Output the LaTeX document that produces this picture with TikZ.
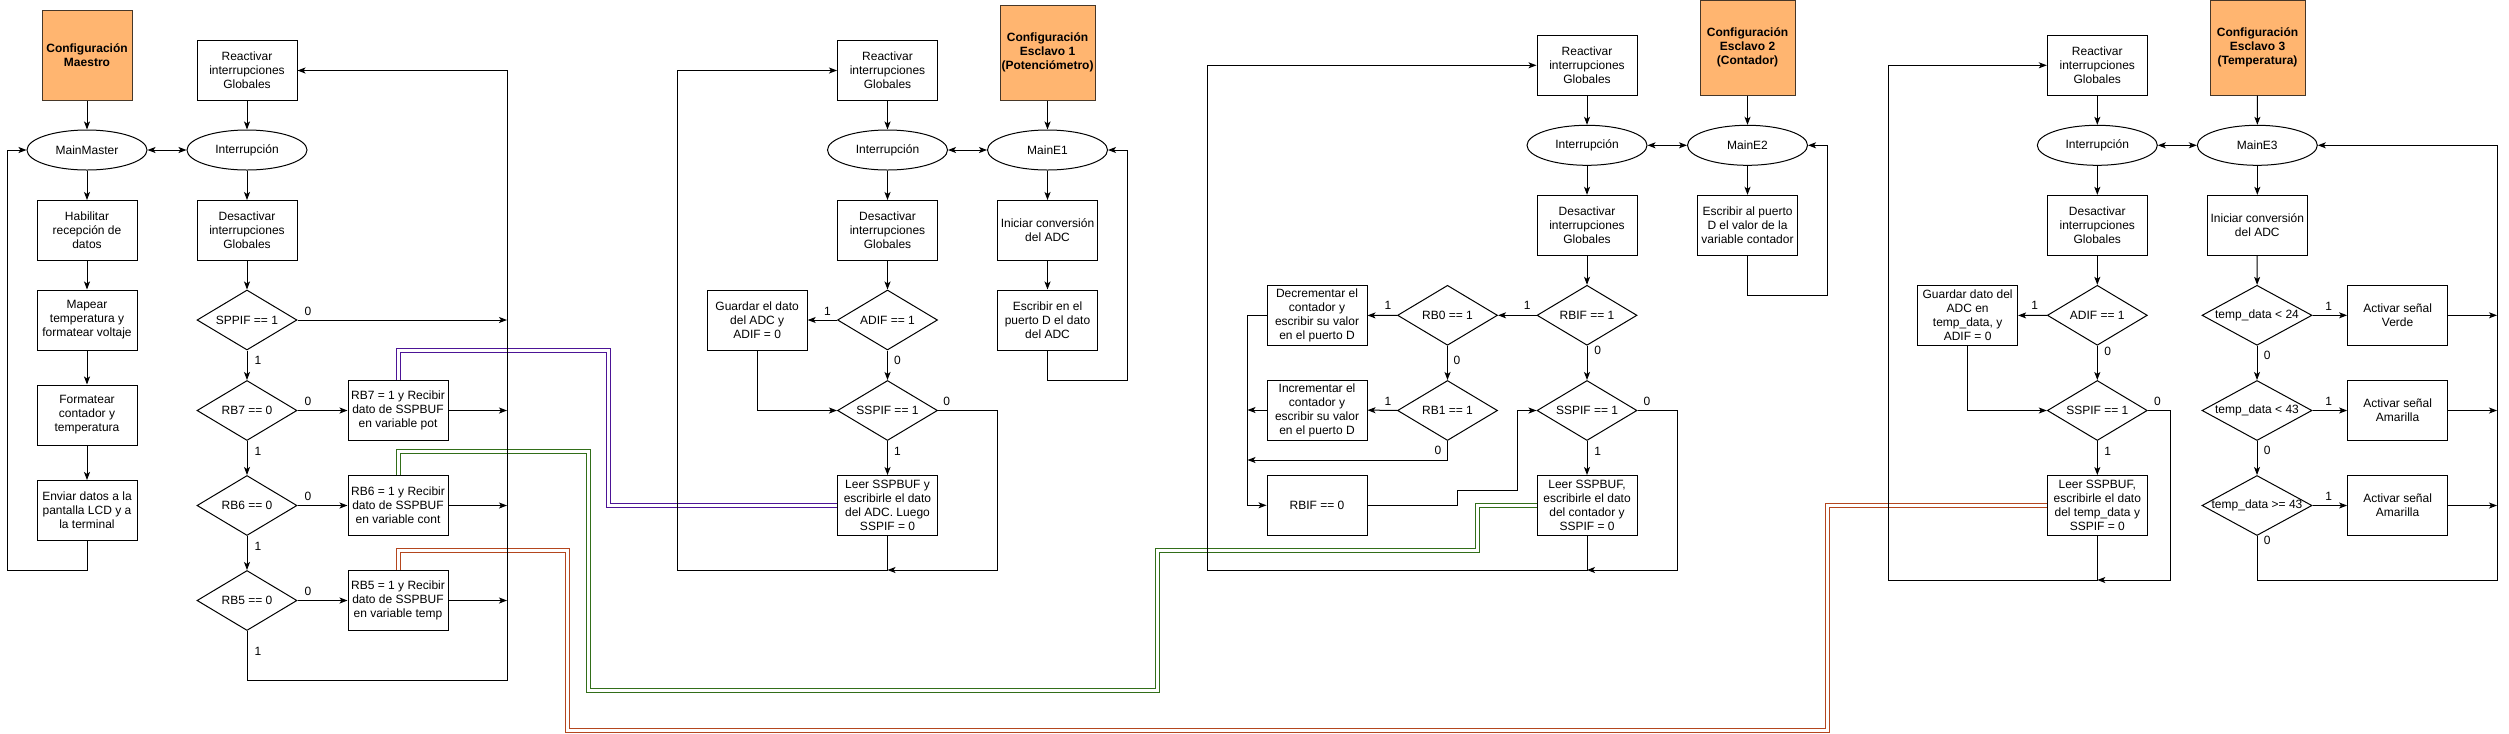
\documentclass[tikz,border=0pt]{standalone}
\usepackage{fontspec}
\setmainfont{Liberation Sans}
\usetikzlibrary{shapes.geometric}
\usetikzlibrary{arrows.meta}
\usetikzlibrary{positioning}

\definecolor{cfgorange}{RGB}{255,181,112}
\definecolor{cfgborder}{RGB}{70,55,40}
\definecolor{linkpot}{RGB}{76,20,150}
\definecolor{linkcont}{RGB}{50,110,25}
\definecolor{linktemp}{RGB}{180,70,30}

\begin{document}
\begin{tikzpicture}[x=0.75pt, y=-0.75pt, line width=0.75pt,
                >={Stealth[length=6pt,width=4.5pt,inset=1.5pt]},
                every node/.style={font=\fontsize{9}{10.5}\selectfont},
                squarednode/.style={rectangle, draw, fill=white, align=center, inner sep=0pt, minimum width=75pt, minimum height=45pt},
                cfgnode/.style={rectangle, draw=cfgborder, fill=cfgorange, align=center, inner sep=0pt, minimum width=71.25pt, minimum height=71.25pt, font=\fontsize{9}{10.5}\selectfont\bfseries},
                roundnode/.style={ellipse, draw, fill=white, inner sep=0pt, minimum width=90pt, minimum height=30pt},
                decisionnode/.style={diamond, draw, fill=white, inner sep=0pt, minimum width=75pt, minimum height=45pt,
                    execute at begin node=\hbox to 0pt\bgroup\hss, execute at end node=\hss\egroup},
                widedecision/.style={decisionnode, minimum width=82.5pt},
                labelnode/.style={inner sep=0pt},
                linkline/.style={double=white, double distance=2.25pt, line width=0.75pt},
            ]
            \useasboundingbox (0,0) rectangle (2509,733);

            % Nodes (maestro)
            \node[cfgnode, minimum width=67.5pt, minimum height=67.5pt] (cfgM) at (87,55.5) {Configuración\\Maestro};
            \node[roundnode]        (mainM)   at (87,150)     {MainMaster};
            \node[squarednode]      (habM)    at (87,230.5)   {Habilitar\\recepción de\\datos};
            \node[squarednode]      (mapM)    at (87,320)     {Mapear\\temperatura y\\formatear voltaje};
            \node[squarednode]      (forM)    at (87,415)     {Formatear\\contador y\\temperatura};
            \node[squarednode]      (envM)    at (87,510.5)   {Enviar datos a la\\pantalla LCD y a\\la terminal};

            \node[squarednode]      (reM)     at (247,70.5)   {Reactivar\\interrupciones\\Globales};
            \node[roundnode]        (intM)    at (247,150)    {Interrupción};
            \node[squarednode]      (desM)    at (247,230.5)  {Desactivar\\interrupciones\\Globales};
            \node[decisionnode]     (spM)     at (247,320)    {SPPIF == 1};
            \node[decisionnode]     (rb7M)    at (247,410.5)  {RB7 == 0};
            \node[decisionnode]     (rb6M)    at (247,505.5)  {RB6 == 0};
            \node[decisionnode]     (rb5M)    at (247,600.5)  {RB5 == 0};
            \node[squarednode]      (potM)    [right=37.5pt of rb7M]  {RB7 = 1 y Recibir\\dato de SSPBUF\\en variable pot};
            \node[squarednode]      (contM)   [right=37.5pt of rb6M]  {RB6 = 1 y Recibir\\dato de SSPBUF\\en variable cont};
            \node[squarednode]      (tempM)   [right=37.5pt of rb5M]  {RB5 = 1 y Recibir\\dato de SSPBUF\\en variable temp};

            % Nodes (esclavo 1)
            \node[cfgnode]          (cfg1)    at (1047.5,52.5) {Configuración\\Esclavo 1\\(Potenciómetro)};
            \node[roundnode]        (main1)   at (1047.5,150)  {MainE1};
            \node[squarednode]      (ini1)    at (1047.5,230.5) {Iniciar conversión\\del ADC};
            \node[squarednode]      (esc1)    at (1047.5,320)  {Escribir en el\\puerto D el dato\\del ADC};
            \node[squarednode]      (re1)     at (887.5,70.5)  {Reactivar\\interrupciones\\Globales};
            \node[roundnode]        (int1)    at (887.5,150)   {Interrupción};
            \node[squarednode]      (des1)    at (887.5,230.5) {Desactivar\\interrupciones\\Globales};
            \node[decisionnode]     (adif1)   at (887.5,320)   {ADIF == 1};
            \node[squarednode]      (gua1)    [left=22pt of adif1] {Guardar el dato\\del ADC y\\ADIF = 0};
            \node[decisionnode]     (ssp1)    at (887.5,410.5) {SSPIF == 1};
            \node[squarednode]      (lee1)    at (887.5,505.5) {Leer SSPBUF y\\escribirle el dato\\del ADC. Luego\\SSPIF = 0};

            % Nodes (esclavo 2)
            \node[cfgnode]          (cfg2)    at (1747.5,47.5) {Configuración\\Esclavo 2\\(Contador)};
            \node[roundnode]        (main2)   at (1747.5,145.3) {MainE2};
            \node[squarednode]      (esc2)    at (1747.5,225.3) {Escribir al puerto\\D el valor de la\\variable contador};
            \node[squarednode]      (re2)     at (1587,65.3)   {Reactivar\\interrupciones\\Globales};
            \node[roundnode]        (int2)    at (1587,145.3)  {Interrupción};
            \node[squarednode]      (des2)    at (1587,225.3)  {Desactivar\\interrupciones\\Globales};
            \node[decisionnode]     (rbif2)   at (1587,315.3)  {RBIF == 1};
            \node[decisionnode]     (ssp2)    at (1587,410.5)  {SSPIF == 1};
            \node[squarednode]      (lee2)    at (1587,505.5)  {Leer SSPBUF,\\escribirle el dato\\del contador y\\SSPIF = 0};
            \node[decisionnode]     (rb0)     at (1447.5,315.3) {RB0 == 1};
            \node[decisionnode]     (rb1)     at (1447.5,410.5) {RB1 == 1};
            \node[squarednode]      (dec2)    at (1317,315.5)  {Decrementar el\\contador y\\escribir su valor\\en el puerto D};
            \node[squarednode]      (inc2)    at (1317,410)    {Incrementar el\\contador y\\escribir su valor\\en el puerto D};
            \node[squarednode]      (clr2)    at (1317,505.3)  {RBIF == 0};

            % Nodes (esclavo 3)
            \node[cfgnode]          (cfg3)    at (2257.5,47.5) {Configuración\\Esclavo 3\\(Temperatura)};
            \node[roundnode]        (main3)   at (2257.3,145.3) {MainE3};
            \node[squarednode]      (ini3)    at (2257.3,225.3) {Iniciar conversión\\del ADC};
            \node[widedecision]     (t24)     at (2257,315.3)  {temp\_data < 24};
            \node[widedecision]     (t43)     at (2257,410.5)  {temp\_data < 43};
            \node[widedecision]     (t43b)    at (2257,505.5)  {temp\_data >= 43};
            \node[squarednode]      (verde)   at (2397.6,315.3) {Activar señal\\Verde};
            \node[squarednode]      (ama1)    at (2397.6,410.5) {Activar señal\\Amarilla};
            \node[squarednode]      (ama2)    at (2397.6,505.5) {Activar señal\\Amarilla};
            \node[squarednode]      (re3)     at (2097.3,65.3) {Reactivar\\interrupciones\\Globales};
            \node[roundnode]        (int3)    at (2097.3,145.3) {Interrupción};
            \node[squarednode]      (des3)    at (2097.3,225.3) {Desactivar\\interrupciones\\Globales};
            \node[decisionnode]     (adif3)   at (2097.3,315.3) {ADIF == 1};
            \node[squarednode]      (gua3)    at (1967.6,315.5) {Guardar dato del\\ADC en\\temp\_data, y\\ADIF = 0};
            \node[decisionnode]     (ssp3)    at (2097.3,410.5) {SSPIF == 1};
            \node[squarednode]      (lee3)    at (2097.3,505.5) {Leer SSPBUF,\\escribirle el dato\\del temp\_data y\\SSPIF = 0};

            % Labels
            \foreach \nm/\px/\py/\tx in {M0a/308/311/0, M1a/258/360/1, M0b/308/401/0, M1b/258/451/1,
                    M0c/308/496/0, M1c/258/546/1, M0d/308/591/0, M1d/258/651/1,
                    A1a/827.4/311/1, A0a/897.4/360/0, A0b/946.8/401/0, A1b/897.4/451/1,
                    B1a/1527.2/305/1, B1b/1388/305/1, B0a/1457/360/0, B0b/1597.7/350/0,
                    B1c/1388/401/1, B0c/1438/450/0, B0d/1647/401/0, B1d/1597.7/451/1,
                    C1a/2034.8/305/1, C0a/2107.8/351/0, C0b/2157.5/401/0, C1b/2107.8/451/1,
                    C1c/2328.6/306/1, C0c/2267.2/355/0, C1d/2328.6/401/1, C0d/2267.2/450/0,
                    C1e/2328.6/496/1, C0e/2267.2/540/0}
                \node[labelnode] (lbl\nm) at (\px,\py) {\tx};

            % Coordinates
            \coordinate (busM)   at (507,680);
            \coordinate (loopM)  at (7,570);
            \coordinate (sideE1) at (997,570);
            \coordinate (cornE1) at (677.5,570);
            \coordinate (backE1) at (1127,380);
            \coordinate (colE2)  at (1247.5,505.3);
            \coordinate (rb1out) at (1447.5,460);
            \coordinate (stepE2) at (1517.4,490.3);
            \coordinate (sideE2) at (1677,570);
            \coordinate (cornE2) at (1207.5,570);
            \coordinate (backE2) at (1827.4,295.3);
            \coordinate (sideE3) at (2170.5,580);
            \coordinate (cornE3) at (1888,580);
            \coordinate (busE3)  at (2497,580);
            \coordinate (potA)   at (608,350);
            \coordinate (contA)  at (588,451);
            \coordinate (contB)  at (1157,690.3);
            \coordinate (contC)  at (1477,550.7);
            \coordinate (tempA)  at (567,550.7);
            \coordinate (tempB)  at (1827.4,730);

            % Links between master and slaves
            \draw[linkline, draw=linkpot]  (potM.north) |- (potA) |- (lee1.west);
            \draw[linkline, draw=linkcont] (contM.north) |- (contA) |- (contB) |- (contC) |- (lee2.west);
            \draw[linkline, draw=linktemp] (tempM.north) |- (tempA) |- (tempB) |- (lee3.west);

            %Lines (maestro)
            \draw[->] (cfgM) -- (mainM);
            \draw[<->] (mainM) -- (intM);
            \draw[->] (mainM) -- (habM);
            \draw[->] (habM) -- (mapM);
            \draw[->] (mapM) -- (forM);
            \draw[->] (forM) -- (envM);
            \draw[->] (envM.south) |- (loopM) |- (mainM.west);
            \draw[->] (reM) -- (intM);
            \draw[->] (intM) -- (desM);
            \draw[->] (desM) -- (spM);
            \draw[->] (spM) -- (rb7M);
            \draw[->] (rb7M) -- (rb6M);
            \draw[->] (rb6M) -- (rb5M);
            \draw[->] (rb7M) -- (potM);
            \draw[->] (rb6M) -- (contM);
            \draw[->] (rb5M) -- (tempM);
            \draw[->] (spM.east) -- (spM.east -| busM);
            \draw[->] (potM.east) -- (potM.east -| busM);
            \draw[->] (contM.east) -- (contM.east -| busM);
            \draw[->] (tempM.east) -- (tempM.east -| busM);
            \draw[->] (rb5M.south) |- (busM) |- (reM.east);

            %Lines (esclavo 1)
            \draw[->] (cfg1) -- (main1);
            \draw[<->] (int1) -- (main1);
            \draw[->] (main1) -- (ini1);
            \draw[->] (ini1) -- (esc1);
            \draw[->] (esc1.south) |- (backE1) |- (main1.east);
            \draw[->] (re1) -- (int1);
            \draw[->] (int1) -- (des1);
            \draw[->] (des1) -- (adif1);
            \draw[->] (adif1) -- (gua1);
            \draw[->] (adif1) -- (ssp1);
            \draw[->] (gua1.south) |- (ssp1.west);
            \draw[->] (ssp1) -- (lee1);
            \draw[->] (ssp1.east) -| (sideE1) -- (lee1.south |- sideE1);
            \draw[->] (lee1.south) |- (cornE1) |- (re1.west);

            %Lines (esclavo 2)
            \draw[->] (cfg2) -- (main2);
            \draw[<->] (int2) -- (main2);
            \draw[->] (main2) -- (esc2);
            \draw[->] (esc2.south) |- (backE2) |- (main2.east);
            \draw[->] (re2) -- (int2);
            \draw[->] (int2) -- (des2);
            \draw[->] (des2) -- (rbif2);
            \draw[->] (rbif2) -- (rb0);
            \draw[->] (rb0) -- (dec2);
            \draw[->] (rb0) -- (rb1);
            \draw[->] (rb1) -- (inc2);
            \draw[->] (inc2.west) -- (inc2.west -| colE2);
            \draw[->] (rb1.south) -- (rb1out) -- (rb1out -| colE2);
            \draw[->] (dec2.west) -| (colE2) -- (clr2.west);
            \draw[->] (clr2.east) -- ++(90,0) |- (stepE2) |- (ssp2.west);
            \draw[->] (rbif2) -- (ssp2);
            \draw[->] (ssp2) -- (lee2);
            \draw[->] (ssp2.east) -| (sideE2) -- (lee2.south |- sideE2);
            \draw[->] (lee2.south) |- (cornE2) |- (re2.west);

            %Lines (esclavo 3)
            \draw[->] (cfg3) -- (main3);
            \draw[<->] (int3) -- (main3);
            \draw[->] (main3) -- (ini3);
            \draw[->] (ini3) -- (t24);
            \draw[->] (t24) -- (t43);
            \draw[->] (t43) -- (t43b);
            \draw[->] (t24) -- (verde);
            \draw[->] (t43) -- (ama1);
            \draw[->] (t43b) -- (ama2);
            \draw[->] (verde.east) -- (verde.east -| busE3);
            \draw[->] (ama1.east) -- (ama1.east -| busE3);
            \draw[->] (ama2.east) -- (ama2.east -| busE3);
            \draw[->] (t43b.south) |- (busE3) |- (main3.east);
            \draw[->] (re3) -- (int3);
            \draw[->] (int3) -- (des3);
            \draw[->] (des3) -- (adif3);
            \draw[->] (adif3) -- (gua3);
            \draw[->] (adif3) -- (ssp3);
            \draw[->] (gua3.south) |- (ssp3.west);
            \draw[->] (ssp3) -- (lee3);
            \draw[->] (ssp3.east) -| (sideE3) -- (lee3.south |- sideE3);
            \draw[->] (lee3.south) |- (cornE3) |- (re3.west);
        \end{tikzpicture}
\end{document}
